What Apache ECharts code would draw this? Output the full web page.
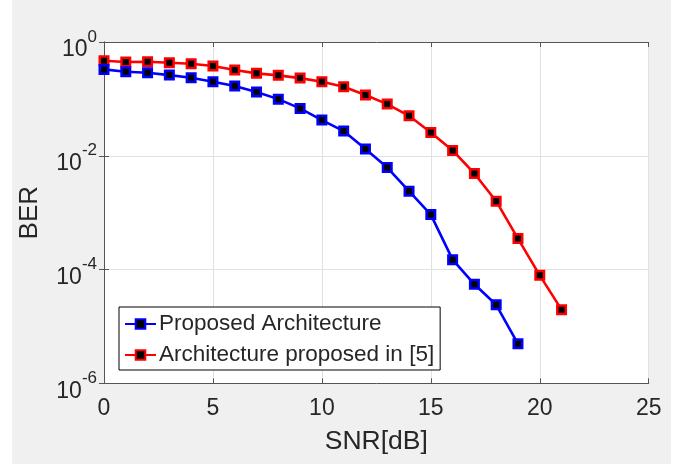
<!DOCTYPE html>
<html>
<head>
<meta charset="utf-8">
<script src="https://cdn.jsdelivr.net/npm/echarts@6/dist/echarts.min.js"></script>
<style>
  html, body { margin: 0; padding: 0; background: #ffffff; }
  #bg { position: absolute; left: 12px; top: 0; width: 659px; height: 464px; background: #f0f0f0; }
  #chart { position: absolute; left: 0; top: 0; width: 691px; height: 464px; }
</style>
</head>
<body>
<div id="bg"></div>
<div id="chart"></div>
<script>
// ---- data ----
const snrProposed = [0,1,2,3,4,5,6,7,8,9,10,11,12,13,14,15,16,17,18,19];
const berProposed = [0.33,0.30,0.288,0.262,0.235,0.2,0.168,0.132,0.099,0.068,0.0424,0.0272,0.0131,0.0062,0.00238,0.000925,0.000149,5.5e-5,2.4e-5,4.95e-6];
const snrRef5 = [0,1,2,3,4,5,6,7,8,9,10,11,12,13,14,15,16,17,18,19,20,21];
const berRef5 = [0.469,0.445,0.45,0.432,0.415,0.379,0.321,0.281,0.259,0.232,0.2,0.163,0.117,0.081,0.0504,0.0257,0.0124,0.00488,0.00159,0.00035,7.9e-5,1.97e-5];
const seriesNames = ['Proposed Architecture', 'Architecture proposed in [5]'];
const xTicks = [0, 5, 10, 15, 20, 25];
const yExponents = [-6, -4, -2, 0];

const FONT = 'Liberation Sans, Arial, sans-serif';
const TXT = '#262626';
const BOX = '#555555';
const GRID = '#e1e1e1';

function pairs(xs, ys) { return xs.map((x, i) => [x, ys[i]]); }

const chart = echarts.init(document.getElementById('chart'), null, { renderer: 'canvas' });

const yLabel = {
  margin: 7,
  padding: [16, 0, 0, 0],
  formatter: function (v) {
    const e = Math.round(Math.log10(v));
    return '{b|10}{s|' + e + '}';
  },
  rich: {
    b: { fontSize: 23, fontFamily: FONT, color: TXT, lineHeight: 43 },
    s: { fontSize: 17, fontFamily: FONT, color: TXT, lineHeight: 17, verticalAlign: 'top' }
  }
};

chart.setOption({
  backgroundColor: 'transparent',
  animation: false,
  grid: {
    left: 104, right: 42.3, top: 42, bottom: 80.7,
    show: true, backgroundColor: '#ffffff', borderWidth: 0
  },
  legend: {
    orient: 'vertical',
    left: 119, top: 307,
    backgroundColor: '#ffffff',
    borderColor: '#000000', borderWidth: 1,
    padding: [5, 6, 3, 5],
    itemGap: 7,
    itemWidth: 31, itemHeight: 12,
    textStyle: { fontSize: 22.5, fontFamily: FONT, color: TXT, lineHeight: 24, padding: [0, 0, 0, -2] },
    data: seriesNames
  },
  xAxis: [{
    type: 'value', position: 'bottom',
    min: xTicks[0], max: xTicks[xTicks.length - 1], interval: 5,
    name: 'SNR[dB]', nameLocation: 'middle', nameGap: 45,
    nameTextStyle: { fontSize: 26.5, fontFamily: FONT, color: TXT },
    axisLine: { show: true, lineStyle: { color: BOX, width: 1 } },
    axisTick: { show: true, inside: true, length: 5, lineStyle: { color: BOX } },
    axisLabel: { fontSize: 23, fontFamily: FONT, color: TXT, margin: 14 },
    splitLine: { show: true, lineStyle: { color: GRID, width: 1 } }
  }, {
    type: 'value', position: 'top',
    min: xTicks[0], max: xTicks[xTicks.length - 1], interval: 5,
    axisLine: { show: true, lineStyle: { color: BOX, width: 1 } },
    axisTick: { show: true, inside: true, length: 5, lineStyle: { color: BOX } },
    axisLabel: { show: false },
    splitLine: { show: false }
  }],
  yAxis: [{
    type: 'log', logBase: 10, position: 'left',
    min: Math.pow(10, yExponents[0]), max: Math.pow(10, yExponents[yExponents.length - 1]), interval: 2,
    name: 'BER', nameLocation: 'middle', nameGap: 61, nameRotate: 90,
    nameTextStyle: { fontSize: 26, fontFamily: FONT, color: TXT },
    axisLine: { show: true, lineStyle: { color: BOX, width: 1 } },
    axisTick: { show: true, inside: true, length: 5, lineStyle: { color: BOX } },
    minorTick: { show: false },
    axisLabel: yLabel,
    splitLine: { show: true, lineStyle: { color: GRID, width: 1 } }
  }, {
    type: 'log', logBase: 10, position: 'right',
    min: Math.pow(10, yExponents[0]), max: Math.pow(10, yExponents[yExponents.length - 1]), interval: 2,
    axisLine: { show: true, lineStyle: { color: BOX, width: 1 } },
    axisTick: { show: true, inside: true, length: 5, lineStyle: { color: BOX } },
    axisLabel: { show: false },
    splitLine: { show: false }
  }],
  series: [{
    name: seriesNames[0], type: 'line',
    data: pairs(snrProposed, berProposed),
    symbol: 'rect', symbolSize: 8.5, showAllSymbol: true,
    lineStyle: { color: '#0000ff', width: 2.6 },
    itemStyle: { color: '#000000', borderColor: '#0000ff', borderWidth: 2.5 },
    z: 3
  }, {
    name: seriesNames[1], type: 'line',
    data: pairs(snrRef5, berRef5),
    symbol: 'rect', symbolSize: 8.5, showAllSymbol: true,
    lineStyle: { color: '#ff0000', width: 2.6 },
    itemStyle: { color: '#000000', borderColor: '#ff0000', borderWidth: 2.5 },
    z: 2
  }]
});
</script>
</body>
</html>
